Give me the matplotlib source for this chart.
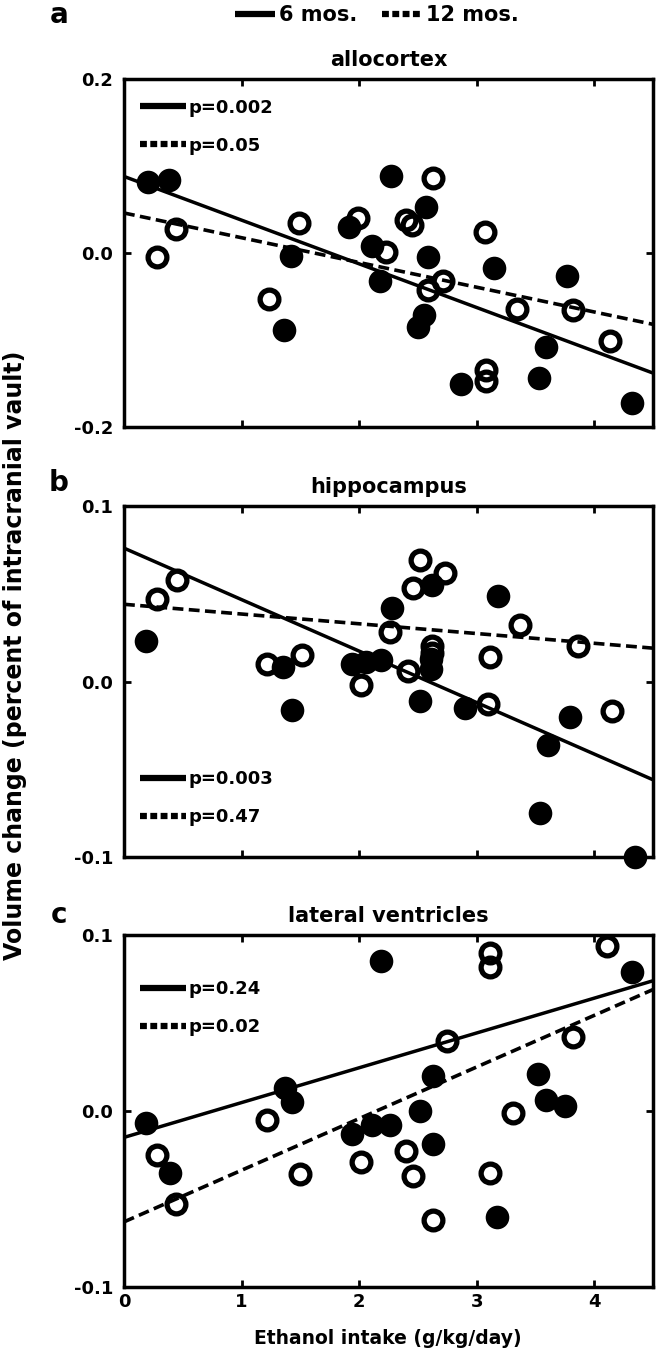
import numpy as np
import matplotlib
matplotlib.use("Agg")
import matplotlib.pyplot as plt
from matplotlib.lines import Line2D

plt.rcParams['font.family'] = ['DejaVu Sans']
plt.rcParams['font.weight'] = 'bold'

x_range = [0, 4.5]
x_ticks = [0, 1, 2, 3, 4]

# allocortex
a_six_x = [0.20, 0.38, 2.27, 2.57, 1.91, 2.11, 1.42, 2.59, 2.18, 3.15, 3.77, 1.36, 2.55, 2.50, 3.59, 2.87, 3.53, 4.32]
a_six_y = [0.082, 0.084, 0.088, 0.053, 0.030, 0.008, -0.003, -0.005, -0.032, -0.017, -0.026, -0.089, -0.071, -0.085, -0.108, -0.150, -0.144, -0.172]
a_twelve_x = [0.28, 0.44, 1.23, 1.49, 1.99, 2.40, 2.45, 2.23, 2.63, 2.59, 2.71, 3.07, 3.08, 3.08, 3.34, 3.82, 4.13]
a_twelve_y = [-0.005, 0.028, -0.053, 0.035, 0.040, 0.038, 0.032, 0.001, 0.086, -0.042, -0.032, 0.024, -0.135, -0.147, -0.064, -0.066, -0.101]
a_fit_six = [0.088, -0.138]
a_fit_twelve = [0.046, -0.082]
a_p = ['p=0.002', 'p=0.05']

# hippocampus
b_six_x = [0.19, 1.35, 1.43, 1.94, 2.06, 2.19, 2.28, 2.62, 2.52, 2.61, 2.61, 2.90, 3.18, 3.79, 3.61, 3.54, 4.35]
b_six_y = [0.023, 0.008, -0.016, 0.010, 0.011, 0.012, 0.042, 0.055, -0.011, 0.013, 0.007, -0.015, 0.049, -0.020, -0.036, -0.075, -0.100]
b_twelve_x = [0.28, 0.45, 1.22, 1.51, 2.02, 2.26, 2.42, 2.46, 2.52, 2.73, 2.62, 2.62, 3.11, 3.10, 3.37, 3.86, 4.15]
b_twelve_y = [0.047, 0.058, 0.010, 0.015, -0.002, 0.028, 0.006, 0.053, 0.069, 0.062, 0.020, 0.016, 0.014, -0.013, 0.032, 0.020, -0.017]
b_fit_six = [0.076, -0.056]
b_fit_twelve = [0.044, 0.019]
b_p = ['p=0.003', 'p=0.47']

# lateral ventricles
c_six_x = [0.19, 0.39, 1.37, 1.43, 2.19, 1.94, 2.11, 2.26, 2.52, 2.63, 2.63, 3.17, 3.52, 3.59, 3.75, 4.32]
c_six_y = [-0.007, -0.035, 0.013, 0.005, 0.085, -0.013, -0.008, -0.008, 0.000, 0.020, -0.019, -0.060, 0.021, 0.006, 0.003, 0.079]
c_twelve_x = [0.28, 0.44, 1.22, 1.50, 2.02, 2.40, 2.46, 2.63, 2.75, 3.11, 3.11, 3.11, 3.31, 3.82, 4.11]
c_twelve_y = [-0.025, -0.053, -0.005, -0.036, -0.029, -0.023, -0.037, -0.062, 0.040, 0.090, 0.082, -0.035, -0.001, 0.042, 0.094]
c_fit_six = [-0.015, 0.074]
c_fit_twelve = [-0.063, 0.069]
c_p = ['p=0.24', 'p=0.02']

W, H = 660, 1351
DASH = (0, (3.0, 1.5))
LEG_DASH = (0, (1.1, 0.55))


def px_rect(left, top, right, bottom):
    return [left / W, 1 - bottom / H, (right - left) / W, (bottom - top) / H]


def draw_panel(ax, title, six_x, six_y, twelve_x, twelve_y, fit_six, fit_twelve,
               pvals, ylim, yticks, leg_y, show_x):
    ax.plot(x_range, fit_six, color='black', lw=2.5, solid_capstyle='butt')
    ax.plot(x_range, fit_twelve, color='black', lw=2.6, linestyle=DASH)
    ax.plot(six_x, six_y, 'o', ms=17, mfc='black', mec='black', mew=0, clip_on=False, zorder=3)
    ax.plot(twelve_x, twelve_y, 'o', ms=13.5, mfc='none', mec='black', mew=3.8, clip_on=False, zorder=4)

    ax.set_xlim(x_range)
    ax.set_ylim(ylim)
    ax.set_xticks(x_ticks)
    ax.set_yticks(yticks)
    ax.set_yticklabels(['%.1f' % v for v in yticks])
    if not show_x:
        ax.set_xticklabels([])
    ax.tick_params(direction='in', top=True, right=True, length=5, width=2,
                   labelsize=13)
    ax.tick_params(axis='y', pad=8)
    ax.tick_params(axis='x', pad=4)
    for s in ax.spines.values():
        s.set_linewidth(2.5)

    bbox = ax.get_position()
    hpx = bbox.height * H
    ax.text(0.5, 1 + 13.5 / hpx, title, transform=ax.transAxes, ha='center',
            va='baseline', fontsize=15, fontweight='bold')

    handles = [Line2D([], [], color='black', lw=4.5, solid_capstyle='butt'),
               Line2D([], [], color='black', lw=4.5, linestyle=LEG_DASH)]
    ax.legend(handles, pvals, loc='center left', bbox_to_anchor=(0, leg_y),
              frameon=False, fontsize=13, handlelength=2.55, handletextpad=0.15,
              labelspacing=1.1, borderaxespad=0.5, borderpad=0.4)


fig = plt.figure(figsize=(W / 100, H / 100), dpi=100)
ax_a = fig.add_axes(px_rect(124, 79, 653, 427))
ax_b = fig.add_axes(px_rect(124, 506, 653, 857))
ax_c = fig.add_axes(px_rect(124, 935, 653, 1287))

draw_panel(ax_a, 'allocortex', a_six_x, a_six_y, a_twelve_x, a_twelve_y,
           a_fit_six, a_fit_twelve, a_p, (-0.2, 0.2), [-0.2, 0.0, 0.2], 0.863, False)
draw_panel(ax_b, 'hippocampus', b_six_x, b_six_y, b_twelve_x, b_twelve_y,
           b_fit_six, b_fit_twelve, b_p, (-0.1, 0.1), [-0.1, 0.0, 0.1], 0.168, False)
draw_panel(ax_c, 'lateral ventricles', c_six_x, c_six_y, c_twelve_x, c_twelve_y,
           c_fit_six, c_fit_twelve, c_p, (-0.1, 0.1), [-0.1, 0.0, 0.1], 0.792, True)

# panel letters
for letter, ypx in [('a', 15), ('b', 483), ('c', 915)]:
    fig.text(59 / W, 1 - ypx / H, letter, fontsize=20, fontweight='bold',
             ha='center', va='center')

fig.text(15 / W, 1 - 655 / H, 'Volume change (percent of intracranial vault)',
         rotation=90, fontsize=17, fontweight='bold', ha='center', va='center')
fig.text(388 / W, 1 - 1338 / H, 'Ethanol intake (g/kg/day)', fontsize=13.5,
         fontweight='bold', ha='center', va='center')

top_handles = [Line2D([], [], color='black', lw=4.5, solid_capstyle='butt'),
               Line2D([], [], color='black', lw=4.5, linestyle=LEG_DASH)]
fig.legend(top_handles, ['6 mos.', '12 mos.'], loc='center',
           bbox_to_anchor=(377 / W, 1 - 15 / H), ncol=2, frameon=False,
           fontsize=15, handlelength=1.9, handletextpad=0.2, columnspacing=1.2,
           borderpad=0, borderaxespad=0)

fig.savefig('out.png', dpi=100)
